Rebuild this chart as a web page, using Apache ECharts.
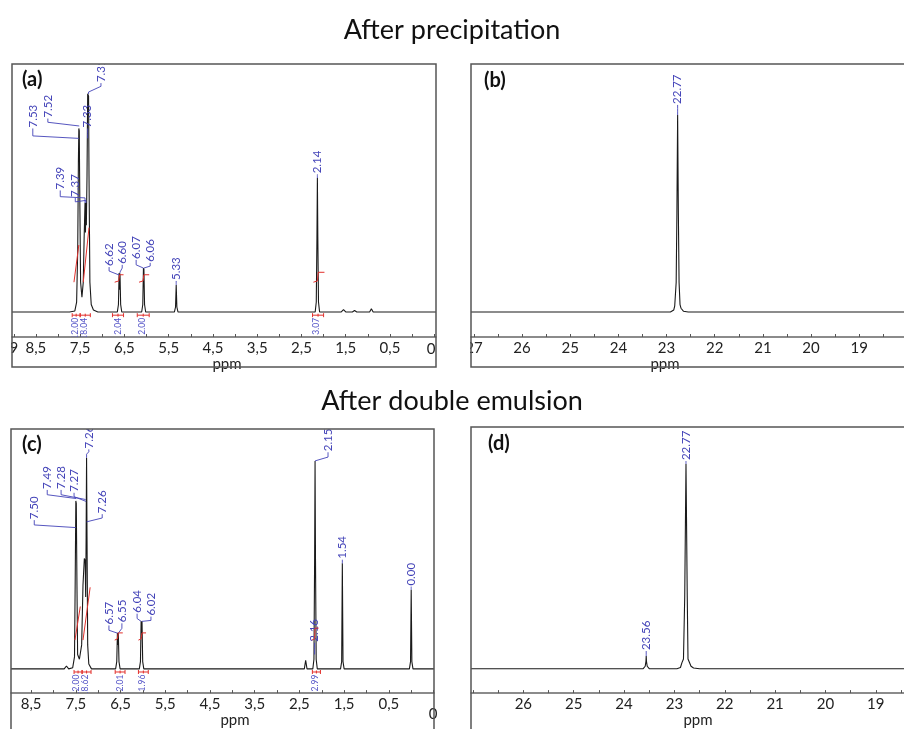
<!DOCTYPE html>
<html>
<head>
<meta charset="utf-8">
<script src="https://cdn.jsdelivr.net/npm/echarts@6/dist/echarts.min.js"></script>
<style>
html,body{margin:0;padding:0;background:#fff;}
#chart{width:904px;height:729px;}
</style>
</head>
<body>
<div id="chart"></div>
<script>
// ---------- DATA ----------
const titles = ['After precipitation', 'After double emulsion'];
const panelLetters = ['(a)', '(b)', '(c)', '(d)'];

// 1H spectrum after precipitation: [ppm, relative intensity]
const spectrumA = [
  [9.04,0],[7.80,0],[7.77,0.8],[7.74,0],[7.62,0.4],[7.58,4],[7.555,25],[7.54,60],[7.53,74],[7.52,73],[7.51,50],[7.49,12],
  [7.46,6],[7.43,12],[7.41,30],[7.39,44],[7.38,32],[7.37,44],[7.36,35],[7.345,55],[7.33,88],[7.31,87],[7.30,55],[7.28,12],
  [7.25,3],[7.20,0.8],[7.10,0],
  [6.66,0],[6.635,3],[6.62,15.7],[6.61,9],[6.60,15.5],[6.585,3],[6.56,0],
  [6.11,0],[6.085,3],[6.07,17.7],[6.065,11],[6.06,17.5],[6.045,3],[6.02,0],
  [5.37,0],[5.345,2],[5.33,10.9],[5.315,2],[5.29,0],
  [2.19,0],[2.165,4],[2.15,30],[2.14,54],[2.13,30],[2.115,4],[2.09,0],
  [1.60,0],[1.55,0.9],[1.50,0],[1.35,0],[1.30,0.6],[1.25,0],[0.96,0],[0.92,1.3],[0.88,0],
  [0.14,0],[0.10,0.4],[0.06,0],[-0.54,0]
];
// 31P spectrum after precipitation
const spectrumB = [
  [27.06,0],[22.92,0],[22.85,0.8],[22.83,2.5],[22.80,12],[22.785,40],[22.77,79.4],[22.755,40],[22.74,12],
  [22.72,3],[22.70,1.5],[22.65,0.3],[22.55,0],[18.07,0]
];
// 1H spectrum after double emulsion
const spectrumC = [
  [8.95,0],[7.76,0],[7.71,1.2],[7.66,0],[7.57,0.5],[7.53,5],[7.515,35],[7.50,70],[7.49,69],[7.475,35],[7.46,6],
  [7.42,4],[7.37,10],[7.34,35],[7.31,46],[7.29,45],[7.28,30],[7.27,55],[7.26,88],[7.25,55],[7.235,10],[7.21,2],[7.15,0],
  [7.02,0],[6.98,0.5],[6.94,0],
  [6.61,0],[6.585,3],[6.57,15],[6.56,10],[6.55,15],[6.535,3],[6.51,0],
  [6.08,0],[6.055,3],[6.04,19.8],[6.03,13],[6.02,19.8],[6.005,3],[5.98,0],
  [5.30,0],[5.26,0.4],[5.22,0],
  [2.39,0],[2.36,3.6],[2.33,0],
  [2.20,0],[2.175,4],[2.16,45],[2.15,86.7],[2.14,45],[2.125,4],[2.10,0],
  [1.58,0],[1.555,3],[1.54,44],[1.525,3],[1.50,0],
  [1.27,0],[1.23,0.5],[1.19,0],
  [0.04,0],[0.015,3],[0.00,33],[-0.015,3],[-0.04,0],[-0.51,0]
];
// 31P spectrum after double emulsion
const spectrumD = [
  [27.04,0],[23.62,0],[23.58,1],[23.565,3],[23.56,5.2],[23.555,3],[23.54,1],[23.50,0],[23.18,0],[23.15,0.6],[23.12,0],
  [22.95,0],[22.88,0.5],[22.85,2.5],[22.82,4],[22.795,30],[22.77,84.7],[22.745,30],[22.73,4],[22.70,3.5],[22.67,1],
  [22.62,0.3],[22.5,0],[18.44,0]
];

// peak labels: [text, peak ppm, label ppm, label foot, knee at label, knee at peak, end at peak]
const peakLabelsA = [
  ['7.53', 7.53, 8.57, 74, 71, 70, 70],
  ['7.52', 7.52, 8.23, 78, 76.5, 75, 75],
  ['7.39', 7.39, 7.95, 49, 46.5, 46, 44],
  ['7.37', 7.37, 7.61, 46, 44.4, 45, 44],
  ['7.33', 7.33, 7.33, 74, 72, 72, 70],
  ['7.31', 7.31, 7.03, 92.3, 91, 88.7, 87.9],
  ['6.62', 6.62, 6.846, 18.1, 16.5, 14.9, 14.9],
  ['6.60', 6.60, 6.55, 19, 17.7, 16.1, 15.7],
  ['6.07', 6.07, 6.235, 21, 19, 17.7, 17.7],
  ['6.06', 6.06, 5.918, 19.8, 18.5, 17.7, 17.7],
  ['5.33', 5.33, 5.33, 12.5, 12, 11.5, 10.9],
  ['2.14', 2.14, 2.14, 55.5, 55, 54.5, 54]
];
const peakLabelsB = [
  ['22.77', 22.77, 22.77, 83.5, 82, 81, 79.4]
];
const peakLabelsC = [
  ['7.50', 7.50, 8.43, 62, 60, 58.9, 58.9],
  ['7.49', 7.49, 8.14, 74.6, 72.6, 71, 71],
  ['7.28', 7.28, 7.83, 74.6, 72.6, 70.6, 70.6],
  ['7.27', 7.27, 7.54, 73.4, 71.8, 69.8, 69.8],
  ['7.26', 7.26, 7.21, 91.5, 90.5, 89.5, 88],
  ['7.26', 7.26, 6.91, 64.5, 62.9, 61.3, 61.3],
  ['6.57', 6.57, 6.76, 18.1, 16.1, 14.9, 14.9],
  ['6.55', 6.55, 6.47, 19, 16.9, 14.9, 14.9],
  ['6.04', 6.04, 6.13, 23, 21, 19.8, 19.8],
  ['6.02', 6.02, 5.82, 21.8, 20.2, 19.8, 19.8],
  ['2.16', 2.16, 2.16, 10.9, 9, 8, 6],
  ['2.15', 2.15, 1.86, 90.3, 88.3, 86.7, 86.7],
  ['1.54', 1.54, 1.54, 45.5, 45, 44.5, 44],
  ['0.00', 0.00, 0.00, 34.3, 34, 33.5, 33]
];
const peakLabelsD = [
  ['23.56', 23.56, 23.56, 7.3, 6.5, 6, 5.2],
  ['22.77', 22.77, 22.77, 85.9, 85.5, 85.2, 84.7]
];

// integration regions [from ppm, to ppm], values and their positions
const integralRangesA = [[7.68,7.50],[7.50,7.27],[6.77,6.52],[6.21,5.94],[2.25,2.00]];
const integralValuesA = ['12.00','18.04','2.04','2.00','3.07'];
const integralValuePosA = [7.62, 7.40, 6.65, 6.09, 2.16];
const integralRangesC = [[7.54,7.36],[7.36,7.16],[6.62,6.40],[6.10,5.88],[2.21,2.03]];
const integralValuesC = ['12.00','18.62','2.01','1.96','2.99'];
const integralValuePosC = [7.48, 7.28, 6.50, 6.02, 2.14];

// integral curves
const integralCurvesA = [
  [[7.64,12],[7.53,27]],
  [[7.43,12],[7.30,34]],
  [[6.72,12],[6.63,12.5],[6.61,15],[6.52,15]],
  [[6.17,12],[6.08,12.5],[6.06,15],[5.94,15]],
  [[2.23,12],[2.14,12.5],[2.12,16],[1.98,16]]
];
const integralCurvesC = [
  [[7.52,12],[7.40,26]],
  [[7.34,12],[7.18,34]],
  [[6.63,12],[6.57,12.5],[6.55,15],[6.45,15]],
  [[6.10,12],[6.04,12.5],[6.02,15],[5.93,15]],
  [[2.22,12],[2.16,12.5],[2.15,17],[2.07,17]]
];

// axis ticks and tick labels
const tickLabelsA = [9, 8.5, 7.5, 6.5, 5.5, 4.5, 3.5, 2.5, 1.5, 0.5];
const tickLabelsC = [8.5, 7.5, 6.5, 5.5, 4.5, 3.5, 2.5, 1.5, 0.5];
const ticks1H = [9, 8.5, 8, 7.5, 7, 6.5, 6, 5.5, 5, 4.5, 4, 3.5, 3, 2.5, 2, 1.5, 1, 0.5, 0, -0.5];
const tickLabelsP = [27, 26, 25, 24, 23, 22, 21, 20, 19];
const ticks31P = [27, 26.5, 26, 25.5, 25, 24.5, 24, 23.5, 23, 22.5, 22, 21.5, 21, 20.5, 20, 19.5, 19, 18.5];

// ---------- CHART ----------
const BLUE = '#4343b8';
const IBLUE = '#5656c8';
const RED = '#e2302c';
const FONT = 'Lato';

const grids = [
  {left: 12, top: 64, width: 424, height: 273},
  {left: 471, top: 64, width: 443, height: 273},
  {left: 11, top: 429, width: 423, height: 273},
  {left: 471, top: 427, width: 443, height: 273}
];
const xRanges = [[-0.54, 9.04], [18.07, 27.06], [-0.51, 8.95], [18.44, 27.04]];
const nameShift = [[0,0,0,6],[0,45,0,0],[0,0,0,25],[0,0,0,21]];
const nameGaps = [10, 10, 10, 9];

function xAxisFor(g, labels, ticks) {
  return {
    type: 'value', gridIndex: g, inverse: true, min: xRanges[g][0], max: xRanges[g][1], position: 'bottom',
    axisLine: {show: true, onZero: false, lineStyle: {color: '#666', width: 1.5}},
    axisTick: {show: true, inside: true, length: 3, customValues: ticks, lineStyle: {color: '#555'}},
    axisLabel: {customValues: labels, formatter: v => String(v).replace('.', ','), fontFamily: FONT, fontSize: 15, color: '#222', margin: 4},
    splitLine: {show: false},
    name: 'ppm', nameLocation: 'middle', nameGap: nameGaps[g],
    nameTextStyle: {fontFamily: FONT, fontSize: 15, color: '#222', padding: nameShift[g]}
  };
}
function yAxisFor(g) {
  return {type: 'value', gridIndex: g, min: -10.1, max: 100, show: false};
}
function specSeries(g, data) {
  return {type: 'line', xAxisIndex: g, yAxisIndex: g, data: data, showSymbol: false, symbol: 'none',
    lineStyle: {color: '#1a1a1a', width: 1.1}, clip: true, silent: true, z: 3};
}
function peakLabelSeries(g, rows) {
  return {
    type: 'custom', xAxisIndex: g, yAxisIndex: g, clip: true, silent: true, z: 4,
    data: rows.map(r => r.slice(1)),
    renderItem(params, api) {
      const r = rows[params.dataIndex];
      const top = api.coord([r[2], r[3]]);
      const k1 = api.coord([r[2], r[4]]);
      const k2 = api.coord([r[1], r[5]]);
      const end = api.coord([r[1], r[6]]);
      return {type: 'group', children: [
        {type: 'polyline', shape: {points: [top, k1, k2, end]}, style: {stroke: BLUE, lineWidth: 0.9, fill: null}},
        {type: 'text', x: top[0], y: top[1] - 1, rotation: Math.PI / 2,
          style: {text: r[0], fill: BLUE, font: '11.5px ' + FONT, align: 'left', verticalAlign: 'middle'}}
      ]};
    }
  };
}
function bracketSeries(g, ranges) {
  return {
    type: 'custom', xAxisIndex: g, yAxisIndex: g, clip: true, silent: true, z: 4,
    data: ranges,
    renderItem(params, api) {
      const a = api.coord([api.value(0), -1.3]);
      const b = api.coord([api.value(1), -1.3]);
      const m = (a[0] + b[0]) / 2;
      const st = {stroke: RED, lineWidth: 1};
      return {type: 'group', children: [
        {type: 'line', shape: {x1: a[0], y1: a[1], x2: b[0], y2: b[1]}, style: st},
        {type: 'line', shape: {x1: a[0], y1: a[1] - 2, x2: a[0], y2: a[1] + 2}, style: st},
        {type: 'line', shape: {x1: b[0], y1: b[1] - 2, x2: b[0], y2: b[1] + 2}, style: st},
        {type: 'line', shape: {x1: m, y1: a[1] - 1.5, x2: m, y2: a[1] + 1.5}, style: st}
      ]};
    }
  };
}
function integralValueSeries(g, pos, texts) {
  return {
    type: 'custom', xAxisIndex: g, yAxisIndex: g, clip: true, silent: true, z: 4,
    data: pos.map(p => [p, -2.4]),
    renderItem(params, api) {
      const p = api.coord([api.value(0), api.value(1)]);
      return {type: 'text', x: p[0], y: p[1], rotation: Math.PI / 2,
        style: {text: texts[params.dataIndex], fill: IBLUE, font: '8.5px ' + FONT, align: 'right', verticalAlign: 'middle'}};
    }
  };
}
function integralCurveSeries(g, curves) {
  return curves.map(c => ({type: 'line', xAxisIndex: g, yAxisIndex: g, data: c, showSymbol: false, symbol: 'none',
    lineStyle: {color: RED, width: 1}, clip: true, silent: true, z: 5}));
}

const chart = echarts.init(document.getElementById('chart'), null, {renderer: 'canvas'});
const option = {
  animation: false,
  backgroundColor: '#fff',
  title: [
    {text: titles[0], left: 'center', top: 12, textStyle: {fontFamily: FONT, fontSize: 27, fontWeight: 'normal', color: '#111'}},
    {text: titles[1], left: 'center', top: 383, textStyle: {fontFamily: FONT, fontSize: 27, fontWeight: 'normal', color: '#111'}}
  ],
  grid: grids.map(gr => Object.assign({containLabel: false}, gr)),
  xAxis: [xAxisFor(0, tickLabelsA, ticks1H), xAxisFor(1, tickLabelsP, ticks31P), xAxisFor(2, tickLabelsC, ticks1H), xAxisFor(3, tickLabelsP.slice(1), ticks31P)],
  yAxis: [yAxisFor(0), yAxisFor(1), yAxisFor(2), yAxisFor(3)],
  series: [
    specSeries(0, spectrumA), specSeries(1, spectrumB), specSeries(2, spectrumC), specSeries(3, spectrumD),
    peakLabelSeries(0, peakLabelsA), peakLabelSeries(1, peakLabelsB), peakLabelSeries(2, peakLabelsC), peakLabelSeries(3, peakLabelsD),
    bracketSeries(0, integralRangesA), bracketSeries(2, integralRangesC),
    integralValueSeries(0, integralValuePosA, integralValuesA), integralValueSeries(2, integralValuePosC, integralValuesC),
    ...integralCurveSeries(0, integralCurvesA), ...integralCurveSeries(2, integralCurvesC)
  ],
  graphic: [
    {type: 'rect', z: 50, shape: {x: 0, y: 338, width: 11, height: 28}, style: {fill: '#fff'}},
    {type: 'rect', z: 50, shape: {x: 437, y: 338, width: 33, height: 28}, style: {fill: '#fff'}},
    {type: 'text', z: 55, x: 431, y: 349, style: {text: '0', font: '15px ' + FONT, fill: '#222', align: 'center', verticalAlign: 'middle'}},
    {type: 'text', z: 55, x: 433, y: 714, style: {text: '0', font: '15px ' + FONT, fill: '#222', align: 'center', verticalAlign: 'middle'}},
    {type: 'rect', z: 60, shape: {x: 12, y: 64, width: 424, height: 303}, style: {fill: null, stroke: '#555', lineWidth: 1.5}},
    {type: 'rect', z: 60, shape: {x: 471, y: 64, width: 460, height: 303}, style: {fill: null, stroke: '#555', lineWidth: 1.5}},
    {type: 'rect', z: 60, shape: {x: 11, y: 429, width: 423, height: 320}, style: {fill: null, stroke: '#555', lineWidth: 1.5}},
    {type: 'rect', z: 60, shape: {x: 471, y: 427, width: 460, height: 320}, style: {fill: null, stroke: '#555', lineWidth: 1.5}},
    {type: 'text', z: 60, x: 22, y: 70, style: {text: panelLetters[0], font: 'bold 20px ' + FONT, fill: '#111'}},
    {type: 'text', z: 60, x: 484, y: 71, style: {text: panelLetters[1], font: 'bold 20px ' + FONT, fill: '#111'}},
    {type: 'text', z: 60, x: 22, y: 435, style: {text: panelLetters[2], font: 'bold 20px ' + FONT, fill: '#111'}},
    {type: 'text', z: 60, x: 488, y: 434, style: {text: panelLetters[3], font: 'bold 20px ' + FONT, fill: '#111'}}
  ]
};
chart.setOption(option);
</script>
</body>
</html>
